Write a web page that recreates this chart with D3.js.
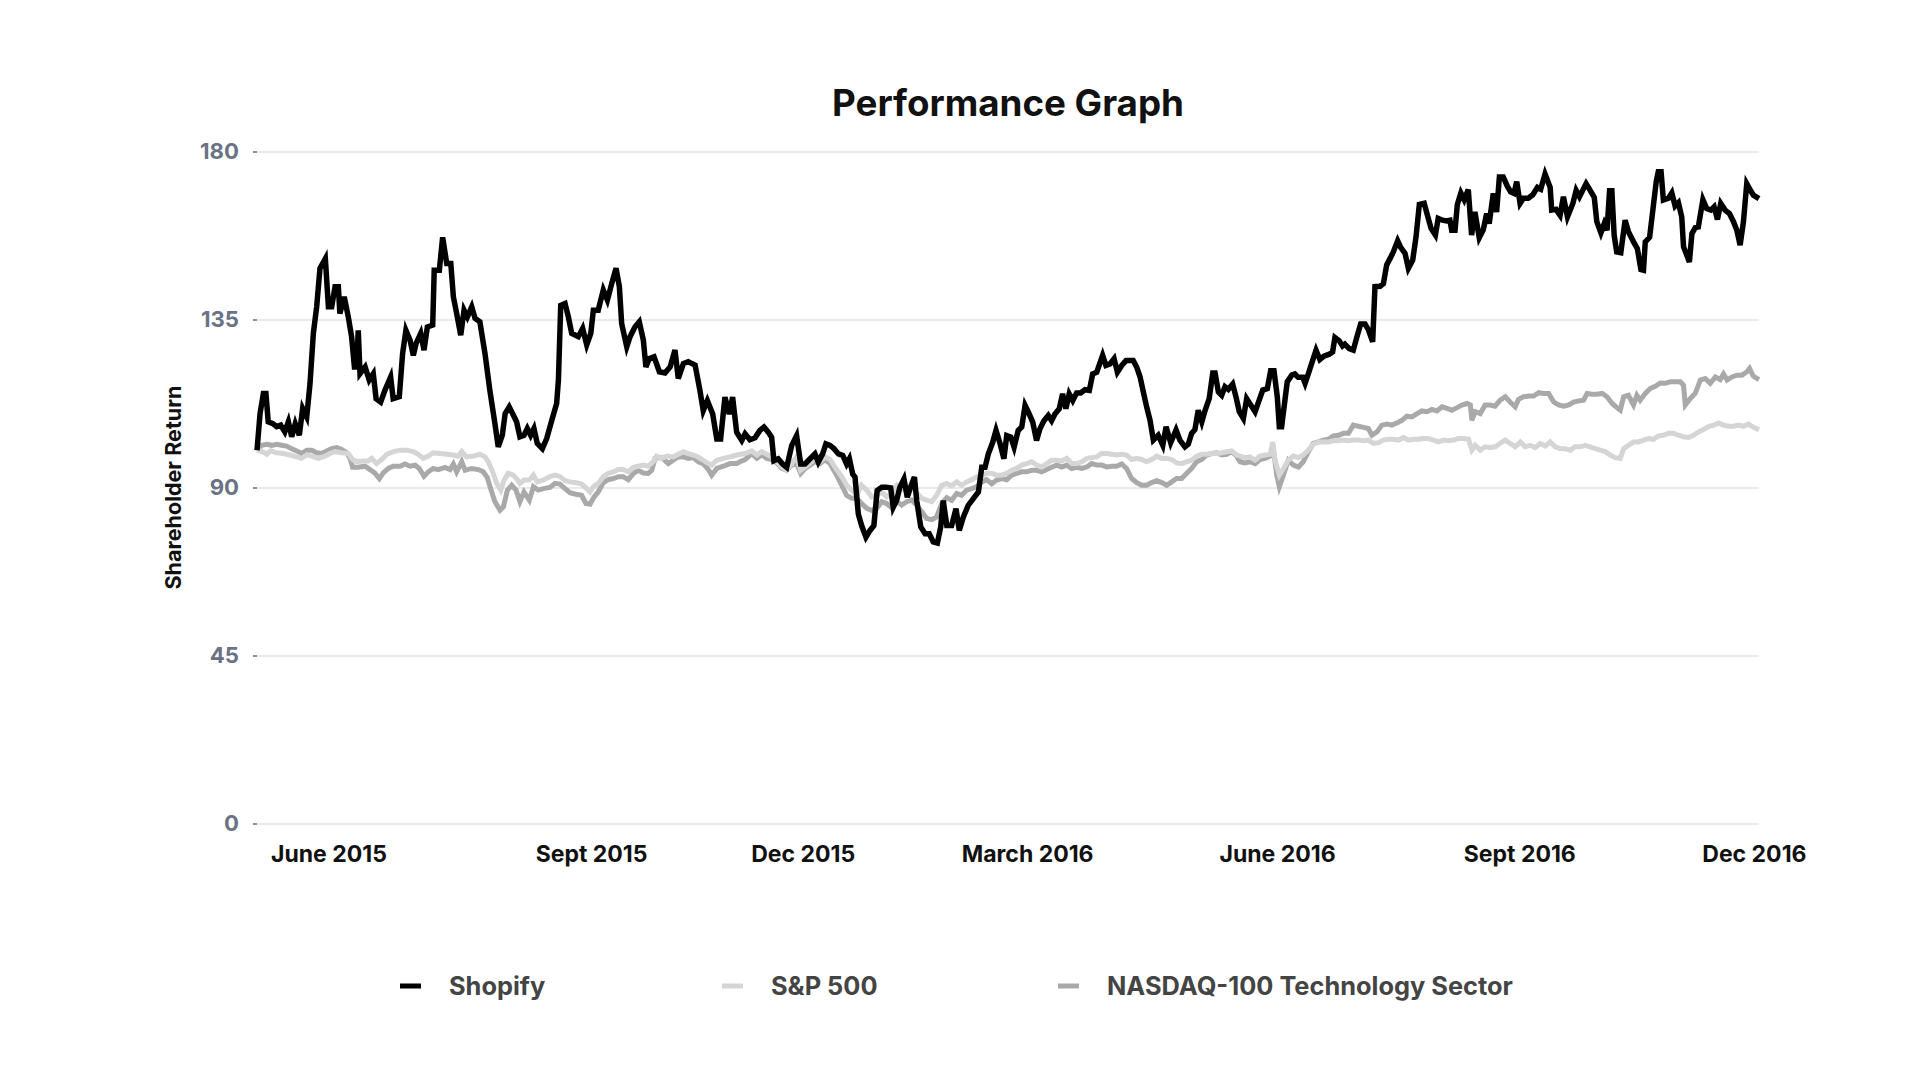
<!DOCTYPE html>
<html><head><meta charset="utf-8">
<script src="https://cdn.jsdelivr.net/npm/d3@7"></script>
<style>
html,body{margin:0;padding:0;background:#fff;}
svg{display:block;font-family:Inter,Lato,"Open Sans",sans-serif;}
</style></head><body>
<svg id="chart" width="1920" height="1080"></svg>
<script>
// ---------- data ----------
const startDate = "2015-05-21";
const endDate = "2016-12-30";
const chartTitle = "Performance Graph";
const yTitle = "Shareholder Return";
const yTicks = [0, 45, 90, 135, 180];
const xTickDates = ["2015-06-18", "2015-09-29", "2015-12-21", "2016-03-18", "2016-06-24", "2016-09-27", "2016-12-28"];
const xTickLabels = ["June 2015", "Sept 2015", "Dec 2015", "March 2016", "June 2016", "Sept 2016", "Dec 2016"];
const seriesNames = ["Shopify", "S&P 500", "NASDAQ-100 Technology Sector"];

// [days since start, value]
const shopify = [
[0,100],[1.2,109.8],[2.5,115.2],[3.5,115.2],[4.4,107.6],[6.2,107.1],[7.7,106.3],[9.3,106.7],[10.9,104.9],[12.3,107.6],
[13.6,103.6],[15.0,107.1],[16.6,104],[17.9,111.2],[19.5,108.9],[20.8,117.9],[22.1,131.3],[23.4,138.4],[24.7,148.7],[26.8,151.3],
[28.0,138.4],[29.3,138.4],[30.6,143.8],[31.9,143.8],[32.5,136.6],[34.2,141.1],[35.8,135.7],[37.1,130.4],[38.2,122.3],[39.1,122.3],
[39.7,132.1],[40.4,120.5],[42.4,122.3],[44.0,118.8],[45.6,120.5],[46.7,113.8],[48.5,112.9],[50.2,116.1],[52.4,119.6],[53.4,113.8],
[55.8,114.3],[57.1,125.9],[58.4,132.1],[60.0,129.5],[61.3,125.4],[62.4,128.6],[64.2,131.3],[65.5,126.8],[66.8,133.0],[68.9,133.5],
[69.5,148.2],[71.5,148.2],[72.8,157.0],[74.4,150],[76.0,150],[77.0,141.1],[78.3,136.6],[79.9,130.8],[81.2,137.5],[82.5,135.7],
[84.2,138.4],[85.5,135.3],[87.4,134.4],[89.4,125.9],[91.3,116.1],[93.3,107.1],[94.6,100.9],[96.2,104],[97.3,109.8],[98.9,111.6],
[100.5,109.4],[101.8,107.6],[103.1,103.6],[104.7,104],[106.0,105.8],[107.3,104],[108.6,105.8],[109.9,101.8],[111.9,100.4],[113.6,103.1],
[115.6,108],[117.5,112.5],[118.2,118.8],[119.1,138.8],[120.8,139.3],[122.1,135.7],[123.4,131.3],[126.0,130.4],[127.7,132.6],[129.3,128.2],
[130.9,131.3],[131.9,137.5],[133.8,137.5],[135.8,142.9],[137.4,140.2],[139.1,144.6],[140.8,148.7],[142.1,143.8],[143.0,133.9],[145.0,127.7],
[146.3,130.4],[148.2,133.0],[149.9,134.4],[151.5,129.5],[152.5,122.3],[153.8,124.5],[155.7,125],[157.8,121],[160.0,120.7],[162.0,122.3],
[163.9,126.8],[165.2,119.2],[167.2,123.2],[169.1,123.7],[171.8,122.8],[173.7,116],[175.0,110.6],[176.6,113.3],[178.7,109.7],[180.3,103],
[181.8,103],[183.5,114.2],[185.2,109.7],[186.5,114.2],[188.1,104.8],[190.1,102.6],[191.4,104.4],[193.3,102.8],[195.3,103.3],[197.2,105.3],
[198.8,106.2],[200.5,104.8],[201.8,103.5],[202.7,97.2],[204.4,97.7],[206.1,96.3],[207.7,95.4],[209.7,101.3],[211.6,103.9],[213.2,96.3],
[214.9,96.3],[216.9,97.7],[218.8,99],[220.1,96.8],[221.8,99],[223.1,101.7],[224.7,101.3],[226.3,100.4],[228.0,99],[229.7,98.6],
[231.2,96.3],[232.3,97.7],[233.6,93.6],[234.5,92.8],[235.8,82.9],[237.1,79.8],[238.8,76.7],[240.4,78.5],[241.9,79.8],[243.2,89.2],
[245.0,90.1],[246.7,90.1],[248.5,89.9],[249.5,84.7],[250.8,86.5],[252.1,90.1],[253.7,92.3],[255.0,87.4],[256.3,90.1],[257.8,92.8],
[258.7,86.5],[260.3,79.4],[262.0,77.6],[263.6,77.6],[265.2,75.4],[266.8,75.1],[268.1,79.4],[269.1,86.5],[270.5,79.8],[272.4,79.8],
[274.1,84.3],[275.4,78.5],[277.0,82.1],[278.9,85.2],[280.9,87],[282.9,88.8],[284.2,95.4],[285.5,95.4],[286.8,99],[288.5,102.1],
[289.8,105.3],[291.4,101.7],[292.9,97.7],[294.0,103.9],[295.6,103.5],[296.9,100.8],[298.5,105.3],[299.9,106.2],[301.2,112],[302.5,110.2],
[304.2,107.5],[305.7,102.6],[307.0,105.7],[308.6,107.9],[310.3,109.3],[311.6,107.9],[312.9,109.7],[314.6,111.1],[315.9,115.1],[317.2,111.1],
[318.5,115.1],[319.9,113.3],[321.4,115.3],[323.0,115.3],[324.7,116.2],[326.4,116],[327.7,120.4],[329.3,120.9],[331.6,125.4],[332.9,122.7],
[334.5,123.1],[336.1,124.5],[337.4,120.9],[339.1,122.7],[340.8,124],[342.3,124],[343.6,124],[345.0,122.2],[346.3,119.6],[347.6,115.5],
[348.9,111.5],[350.2,108],[351.5,102.7],[353.4,104],[355.2,101.3],[356.5,106.3],[358.3,102],[360.4,105.4],[361.9,102.7],[363.9,100.9],
[365.2,101.6],[366.5,104.5],[367.8,105.5],[369.1,110.7],[370.5,107.6],[371.8,110.7],[373.4,113.8],[374.8,120.7],[375.7,120.7],[377.0,115.6],
[378.3,114.7],[379.6,117],[380.9,116.3],[382.6,117.7],[383.9,114.3],[385.2,110.3],[386.8,108.5],[388.1,113.8],[389.7,112.1],[391.4,110.3],
[393.0,113.4],[394.4,116.1],[396.2,116.5],[397.5,121.3],[398.8,121.3],[400.1,114.3],[400.9,106.3],[401.8,106.3],[403.1,113.4],[404.0,118.3],
[405.8,120.1],[407.0,120.4],[408.3,119.5],[410.1,119.5],[411.0,117.9],[412.3,120.5],[414.0,124.1],[415.3,126.8],[416.8,124.3],[418.4,125.2],
[420.5,125.7],[421.8,126.3],[422.7,130.2],[424.4,129.3],[425.7,127.9],[426.6,128.4],[428.3,127.2],[429.9,126.8],[431.5,130.8],[432.8,133.8],
[434.5,133.8],[435.8,132.3],[437.5,129],[438.4,143.8],[440.4,143.9],[441.7,144.6],[443.0,149.6],[444.3,151.3],[445.6,153.1],[447.3,156.1],
[448.5,154.3],[450.2,152.7],[451.5,148.7],[453.2,150.9],[454.5,157.1],[455.8,165.8],[457.7,166.1],[459.3,162.1],[460.4,159.4],[462.1,157.6],
[463.2,162.1],[464.9,161.6],[466.5,161.4],[467.8,161.6],[468.5,158.9],[469.8,158.9],[470.7,165.8],[472.1,168.9],[473.4,167.1],[475.0,169.8],
[476.3,157.6],[477.6,163.8],[479.3,156.9],[480.9,159.1],[482.2,163.4],[483.2,160.7],[484.8,168.8],[486.1,163.8],[487.2,173.2],[488.7,173.2],
[490.3,170.7],[491.6,169.2],[492.9,168.8],[494.0,171.9],[495.3,166.1],[496.6,167.5],[498.5,167.5],[500.3,168.4],[502.1,170.4],[503.4,169.9],
[505.1,174],[507.1,170.4],[507.7,164.3],[509.4,164.5],[511.0,162.9],[512.3,167.9],[513.9,162.5],[516.0,166.1],[517.3,169.6],[518.6,167.9],
[521.2,171.4],[522.8,169.6],[524.4,167.7],[525.4,161.2],[527.0,158.2],[528.3,160.7],[529.4,158.9],[530.4,169.5],[531.3,169.5],[532.2,157.6],
[533.2,153.1],[534.8,152.9],[536.5,161.6],[537.8,158.5],[539.8,155.8],[541.3,154],[542.7,148.4],[543.7,148.2],[544.4,155.8],[546.1,157],
[547.6,165.6],[548.7,171.9],[549.5,174.6],[550.6,174.6],[551.5,167],[553.5,167.5],[554.8,168.9],[556.1,165.4],[557.4,166.3],[558.7,162.5],
[559.4,154.5],[560.7,152.2],[561.7,150.4],[562.7,158],[564.0,159.6],[565.2,159.8],[567.0,167.1],[568.5,164.7],[570.1,164.3],[571.4,165.2],
[572.7,161.8],[574.0,166.1],[575.7,164.3],[577.4,163.4],[579.0,161.2],[580.3,158.9],[581.6,154.9],[582.9,161.2],[584.2,171.4],[585.5,169.8],
[586.8,168.3],[589.0,167.4]
];

const sp500 = [
[0,100],[2.5,99.5],[3.8,98.9],[5.4,99.8],[7.7,99.3],[10.3,99.1],[12.9,98.7],[15.6,98.2],[17.5,97.8],[19.5,98.7],
[21.5,98.4],[24.0,97.8],[26.7,98.4],[28.6,99.1],[30.6,99.6],[33.2,99.3],[35.8,99.1],[37.5,97.5],[39.1,96.9],[41.7,97.1],
[43.6,97.1],[45.0,97.8],[46.9,96.4],[48.9,97.5],[50.9,98.9],[53.4,99.6],[56.1,100],[58.7,100],[61.3,99.6],[63.3,98.9],
[65.2,97.8],[67.2,98.4],[69.1,99.3],[71.8,99.1],[74.4,98.9],[77.0,98.7],[78.9,98.4],[80.3,99.6],[82.2,98.2],[84.8,98.4],
[87.4,98.9],[89.4,98.2],[90.7,96.9],[92.4,94.2],[94.0,91.1],[95.6,89.3],[96.9,92],[98.5,93.8],[100.5,93.3],[101.8,92.4],
[103.1,91.1],[104.7,92],[106.8,92],[108.4,93.3],[109.9,91.5],[112.3,92],[114.9,92.9],[116.9,93.3],[118.8,92.9],[120.8,91.8],
[122.7,91.5],[125.1,91.3],[127.3,90.9],[129.3,89.7],[130.6,88.8],[131.9,90.2],[133.8,91.1],[135.8,92.9],[137.8,93.8],[139.7,94.2],
[141.7,94.8],[143.6,94.8],[145.6,94.2],[147.6,95.4],[149.5,95.7],[151.5,96],[153.4,95.7],[155.4,96.9],[156.7,98.4],[158.7,97.8],
[160.7,98.4],[163.2,98.2],[165.2,98.9],[167.2,99.6],[169.1,99.1],[171.1,98.7],[173.1,98.1],[175.0,97.3],[177.0,96.4],[178.3,96],
[180.3,97.3],[182.9,97.8],[185.5,98.2],[188.1,98.7],[191.4,99.1],[194.0,99.8],[196.0,98.7],[197.9,99.6],[199.9,98.9],[201.8,98.2],
[203.8,96.9],[205.8,95.5],[207.7,94.6],[209.7,96.4],[211.6,98.2],[213.2,94.6],[214.9,95.5],[216.9,96.6],[218.8,97.8],[220.8,96.9],
[222.7,98.2],[224.7,97.5],[227.3,94.8],[229.3,92.9],[231.2,90.6],[233.2,89.3],[235.2,87.9],[237.1,90.6],[239.1,89.3],[241.0,87.5],
[243.0,87.9],[245.0,88.8],[246.9,87.5],[248.9,88.4],[250.9,90.6],[252.8,89.5],[254.8,89.7],[256.7,90.6],[258.7,88.6],[260.7,87.1],
[262.6,86.6],[264.6,86.2],[266.5,87.9],[268.5,90.6],[270.5,91.1],[272.4,90.4],[274.4,91.5],[276.3,90.6],[278.3,91.5],[280.3,92.1],
[282.2,92.9],[284.2,92.9],[286.1,93.8],[288.1,93.8],[290.1,93.3],[292.0,93.3],[294.0,93.8],[295.9,94.6],[297.9,95.1],[299.9,96],
[301.8,96.4],[303.8,96.9],[305.7,96],[307.7,95.5],[309.7,96.4],[311.6,97.3],[313.6,97.3],[315.6,97.1],[317.5,97.8],[319.5,96.4],
[321.4,96.4],[323.4,96.9],[325.4,97.8],[327.3,98],[329.3,98.2],[331.2,99.1],[333.2,99.1],[335.2,98.9],[337.1,98.7],[339.1,98.9],
[341.0,98.7],[343.0,97.5],[345.0,97.8],[346.9,97.5],[348.9,96.9],[350.8,97.5],[352.8,98.4],[354.8,97.8],[356.7,97.8],[358.7,97.5],
[360.6,96.6],[362.6,96.4],[364.6,96.9],[366.5,97.3],[368.5,98.4],[370.5,98.9],[372.4,98.9],[374.4,99.1],[376.3,99.1],[378.3,99.3],
[380.3,99.6],[382.2,99.8],[384.2,98.7],[385.5,98.4],[387.4,98],[389.4,98.2],[391.4,97.3],[393.3,98.4],[395.3,98.7],[397.3,98.9],
[398.3,102.2],[399.2,97.3],[400.9,93.3],[402.5,95.1],[404.4,97.3],[406.4,98.4],[408.4,98],[410.3,98.7],[412.3,100],[414.2,101.6],
[416.2,102.2],[418.2,102.2],[420.1,102.2],[422.1,102.5],[424.1,102.5],[426.0,102.7],[428.0,102.5],[429.9,102.7],[431.9,102.7],[433.9,102.5],
[435.8,102.7],[437.8,101.8],[439.8,102],[441.7,102.7],[443.7,102.9],[445.6,102.9],[447.6,102.7],[449.6,103.4],[451.5,102.7],[453.5,102.9],
[455.5,102.9],[457.4,103.1],[459.4,103.1],[461.3,102.7],[463.3,102.2],[465.3,102.7],[467.2,102.5],[469.2,102.7],[471.1,103.1],[473.1,103.1],
[475.1,102.9],[476.4,100],[477.7,101.3],[479.7,100],[481.6,100.9],[483.6,100.7],[485.5,100.9],[487.5,101.8],[489.5,102.7],[491.4,101.8],
[493.4,100.9],[495.4,102.2],[497.3,100.9],[499.3,101.3],[501.2,100.7],[503.2,101.8],[505.2,101.1],[507.1,102.2],[509.1,100.9],[511.0,100.4],
[513.0,100.4],[515.0,100],[516.9,100.9],[518.9,100.9],[520.8,101.3],[522.8,100.9],[524.8,100.4],[526.7,100],[528.7,99.6],[530.6,98.7],
[532.6,98],[534.6,97.8],[535.9,100.4],[537.8,101.3],[539.8,102.2],[541.8,102.2],[543.7,102.7],[545.7,103.1],[547.6,102.9],[549.6,103.8],
[551.5,104],[553.5,104.5],[555.5,104.5],[557.4,104],[559.4,103.6],[561.4,103.4],[563.3,104],[565.3,104.9],[567.2,105.5],[569.2,106.3],
[571.2,106.7],[573.1,107.3],[575.1,106.7],[577.0,106.4],[579.0,106.4],[581.0,106.7],[582.9,106.4],[584.9,107],[586.8,106.1],[589.0,105.5]
];

const nasdaq = [
[0,100],[1.8,101.3],[3.8,101.6],[5.8,101.3],[7.7,101.6],[9.7,101.3],[11.6,101.1],[13.6,100.4],[15.6,99.8],[17.5,99.1],
[19.5,100],[21.5,100],[23.4,99.3],[25.4,99.1],[27.3,99.8],[29.3,100.4],[31.3,100.7],[33.2,100.2],[35.2,99.3],[36.5,97.8],
[37.5,95.4],[39.7,95.4],[42.4,95.7],[44.3,94.8],[46.3,93.8],[48.0,92.4],[49.5,93.9],[51.5,95.1],[53.4,95.7],[56.1,95.7],
[58.0,96.3],[60.0,95.7],[62.0,96],[63.6,95.1],[65.5,93],[67.2,94.2],[69.1,95.1],[71.1,94.8],[73.7,95.4],[75.7,94.8],
[77.0,96.3],[78.3,94.2],[80.3,96.9],[81.6,94.6],[84.2,95.1],[86.8,94.8],[88.7,94.2],[90.3,92.7],[91.6,89.7],[93.3,86.2],
[95.3,83.9],[96.6,84.8],[98.2,89.3],[99.9,90.6],[101.6,89.3],[103.1,86.2],[104.7,88.8],[106.8,86.6],[108.4,90.2],[110.3,89.3],
[112.3,89.7],[114.9,90],[116.9,91.1],[118.8,90.9],[120.8,89.7],[122.7,88.6],[125.1,88.2],[127.3,87.9],[129.0,85.7],[130.6,85.5],
[132.2,87.5],[133.8,88.8],[135.8,91.3],[137.8,92.1],[139.7,92.4],[141.7,92.9],[143.6,92.9],[145.6,92.1],[147.6,93.8],[149.5,94.6],
[151.5,93.9],[153.4,93.8],[154.8,94.6],[156.1,97.8],[158.7,98],[161.3,96.4],[163.2,97.3],[165.2,98.2],[167.2,98.2],[169.1,97.8],
[171.1,98],[173.1,96.9],[175.0,96.4],[177.0,94.8],[178.3,93.3],[180.3,95.1],[182.9,95.7],[185.5,96.4],[188.1,96.4],[189.4,96.9],
[191.4,97.5],[194.0,99.1],[196.0,97.8],[197.9,98.7],[199.9,97.8],[201.8,97.5],[203.8,96.6],[205.8,95.1],[207.7,94.6],[209.7,96],
[211.6,96.4],[213.2,93.8],[214.9,95.1],[216.9,96],[218.8,96.9],[220.8,96.4],[222.7,97.5],[224.7,96.4],[227.3,93.3],[229.3,90.6],
[231.2,87.9],[233.2,87.1],[235.2,87.1],[237.1,85.7],[239.1,84.4],[241.0,83.9],[243.0,84.4],[245.0,86.2],[246.9,85.7],[248.9,84.6],
[250.9,86.2],[252.8,85.3],[254.8,86.2],[256.7,86.6],[258.7,85.3],[260.7,83.5],[262.6,81.7],[264.6,81.4],[266.5,82.1],[268.5,85.7],
[270.5,87.3],[272.4,86.6],[274.4,88.4],[276.3,87.9],[278.3,89.3],[280.3,89.7],[282.2,90.2],[284.2,91.5],[286.1,92.1],[288.1,91],
[290.1,92],[292.0,92.4],[294.0,92.1],[295.9,93.3],[297.9,93.8],[299.9,94.2],[301.8,94.2],[303.8,94.6],[305.7,94.6],[307.7,94.2],
[309.7,94.8],[311.6,95.4],[313.6,96],[315.6,95.5],[317.5,96],[319.5,95.1],[321.4,95.4],[323.4,95.1],[325.4,95.5],[327.3,96.4],
[329.3,96],[331.2,96],[333.2,95.5],[335.2,95.7],[337.1,95.7],[339.1,96.3],[341.0,95.1],[343.0,92.4],[345.0,91.3],[346.9,90.6],
[348.9,90.6],[350.8,91.3],[352.8,91.8],[354.8,91.3],[356.7,90.6],[358.7,91.5],[360.6,92.4],[362.6,92.4],[364.6,93.8],[366.5,95.1],
[368.5,96.9],[370.5,97.5],[372.4,98.7],[374.4,99.1],[376.3,99.3],[378.3,98.7],[380.3,98.9],[382.2,99.6],[384.2,98.4],[385.5,96.9],
[387.4,96.6],[389.4,96.9],[391.4,96.4],[393.3,97.5],[395.3,97.8],[397.3,98.4],[398.6,100],[399.9,93.3],[400.9,90.2],[402.5,93.3],
[404.4,97.3],[406.4,96],[408.4,95.5],[410.3,96.9],[412.3,99.6],[414.2,101.8],[416.2,102.2],[418.2,102.7],[420.1,102.9],[422.1,103.8],
[424.1,104],[426.0,104.5],[428.0,104.5],[429.9,106.7],[431.9,106.4],[433.9,106.1],[435.8,105.8],[437.2,104],[439.2,104.9],[441.1,106.7],
[443.1,107],[445.0,106.7],[447.0,107.3],[449.0,108],[450.9,109.1],[452.9,108.9],[454.9,109.8],[456.8,110.5],[458.8,110.3],[460.7,110.9],
[462.7,110.5],[464.7,111.6],[466.6,111.2],[468.6,110.7],[470.6,111.4],[472.5,112.1],[474.5,112.5],[475.8,112.1],[476.4,108],[477.7,110.3],
[479.7,109.8],[481.6,112.1],[483.6,112.1],[485.5,111.8],[487.5,113.4],[489.5,114.3],[491.4,112.9],[493.4,111.6],[494.7,113.6],[496.7,114.3],
[498.7,114.5],[500.6,114.5],[502.6,115.4],[504.5,115.2],[506.5,115.2],[508.5,112.9],[510.4,112.1],[512.4,111.8],[514.4,112.1],[516.3,112.9],
[518.3,113.2],[520.2,113.4],[521.6,115.2],[523.5,115],[525.5,115],[527.5,115.2],[529.4,114.3],[531.4,112.5],[533.3,111.4],[534.6,110.7],
[535.9,114.3],[537.8,114.7],[539.8,112.1],[541.1,114.7],[542.4,113.4],[544.4,115.2],[546.3,116.5],[548.3,117.1],[550.3,118],[552.2,117.9],
[554.2,118.3],[556.2,118.3],[558.1,118.3],[559.4,117.4],[560.1,112.1],[562.0,113.8],[564.0,115.2],[566.0,118.8],[567.9,119.2],[569.9,117.9],
[571.9,119.6],[573.8,118.9],[575.1,120.4],[576.5,118.8],[578.4,119.6],[580.4,120.1],[582.3,120.1],[584.3,121],[585.3,121.9],[586.8,119.8],
[589.0,118.9]
];

const seriesColors = ["#000000", "#d5d5d5", "#a9a9a9"];

// ---------- chart ----------
const svg = d3.select("#chart");
svg.append("rect").attr("width", 1920).attr("height", 1080).attr("fill", "#fff");

const plot = {left: 257, right: 1759, top: 151.5, bottom: 823.5};
const start = new Date(startDate + "T00:00:00");
const toDate = d => new Date(start.getTime() + d * 864e5);

const x = d3.scaleTime()
  .domain([start, new Date(endDate + "T00:00:00")])
  .range([plot.left, plot.right]);
const y = d3.scaleLinear().domain([0, 180]).range([plot.bottom, plot.top]);

// scale a group of texts so that a reference text reaches a target width
function fitGroup(sel, refNode, targetWidth) {
  const fs = parseFloat(d3.select(refNode).attr("font-size"));
  const w = refNode.getComputedTextLength();
  if (w > 0) sel.attr("font-size", (fs * targetWidth / w).toFixed(2));
}

// title
const title = svg.append("text").attr("x", (plot.left + plot.right) / 2).attr("y", 116)
  .attr("text-anchor", "middle").attr("font-size", 36).attr("font-weight", 700)
  .attr("fill", "#111").text(chartTitle);
fitGroup(title, title.node(), 352);

// gridlines
const grid = svg.append("g").attr("transform", `translate(${plot.left},0)`)
  .call(d3.axisLeft(y).tickValues(yTicks).tickSize(-(plot.right - plot.left)).tickFormat(""));
grid.select(".domain").remove();
grid.selectAll("line").attr("stroke", "#d6d6d6").attr("stroke-width", 1.2);

// y axis ticks + labels
const yAxis = svg.append("g").attr("transform", `translate(${plot.left},0)`)
  .call(d3.axisLeft(y).tickValues(yTicks).tickSize(4).tickPadding(14));
yAxis.select(".domain").remove();
yAxis.selectAll("line").attr("stroke", "#444").attr("stroke-width", 1.2);
const yLabels = yAxis.selectAll("text").attr("font-size", 20).attr("font-weight", 700)
  .attr("fill", "#6b7286").attr("font-family", "Inter, Lato, sans-serif");
fitGroup(yLabels, yLabels.filter(d => d === 180).node(), 39);

// y title
const yt = svg.append("text")
  .attr("transform", `translate(181,${(plot.top + plot.bottom) / 2}) rotate(-90)`)
  .attr("text-anchor", "middle").attr("font-size", 19).attr("font-weight", 700)
  .attr("fill", "#111").text(yTitle);
fitGroup(yt, yt.node(), 204);

// x axis
const xAxis = svg.append("g").attr("transform", `translate(0,${plot.bottom})`)
  .call(d3.axisBottom(x)
    .tickValues(xTickDates.map(s => new Date(s + "T00:00:00")))
    .tickSize(0).tickPadding(22)
    .tickFormat((d, i) => xTickLabels[i]));
xAxis.select(".domain").remove();
const xLabels = xAxis.selectAll("text").attr("font-size", 21).attr("font-weight", 700)
  .attr("fill", "#111").attr("font-family", "Inter, Lato, sans-serif");
fitGroup(xLabels, xLabels.nodes()[0], 116);

// lines
const line = d3.line().x(d => x(toDate(d[0]))).y(d => y(d[1]));
const drawOrder = [
  {data: nasdaq, color: seriesColors[2], w: 5},
  {data: sp500, color: seriesColors[1], w: 5},
  {data: shopify, color: seriesColors[0], w: 5.5}
];
drawOrder.forEach(s => {
  svg.append("path").datum(s.data).attr("d", line)
    .attr("fill", "none").attr("stroke", s.color).attr("stroke-width", s.w)
    .attr("stroke-linejoin", "miter").attr("stroke-miterlimit", 4);
});

// legend
const legendX = [400, 722, 1058];
const legend = svg.append("g").attr("transform", "translate(0,986)");
seriesNames.forEach((name, i) => {
  const g = legend.append("g").attr("transform", `translate(${legendX[i]},0)`);
  g.append("rect").attr("x", 0).attr("y", -2.5).attr("width", 21).attr("height", 5).attr("fill", seriesColors[i]);
  g.append("text").attr("x", 49).attr("y", 0).attr("dy", "0.35em")
    .attr("font-size", 24).attr("font-weight", 700).attr("fill", "#444").text(name);
});
const legendTexts = legend.selectAll("text");
fitGroup(legendTexts, legendTexts.nodes()[2], 406);
</script>
</body></html>
